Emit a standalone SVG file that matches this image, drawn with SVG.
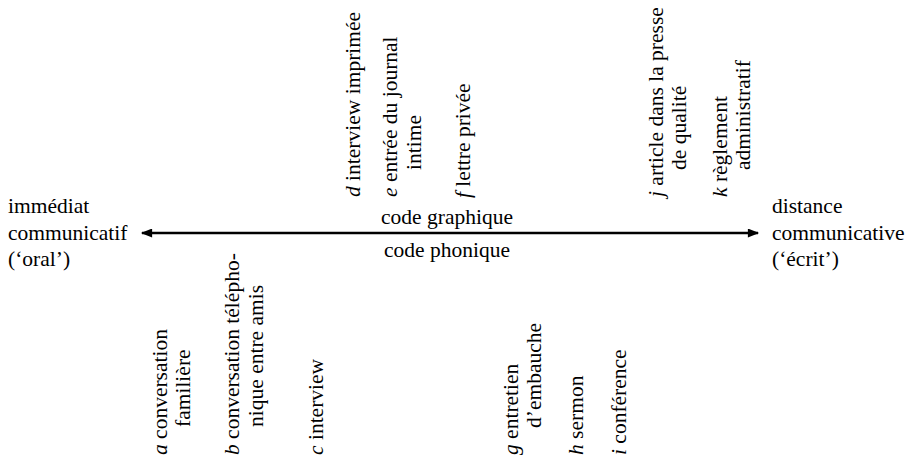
<svg xmlns="http://www.w3.org/2000/svg" width="913" height="458" viewBox="0 0 913 458" font-family="Liberation Serif, DejaVu Serif, serif" font-size="21.5">
<style>
text{fill:#000}
.i{font-style:italic}
.ax{stroke:#000;stroke-width:2.5;fill:none}
</style>
<defs>
<marker id="ah" viewBox="0 0 10 8" refX="9" refY="4" markerWidth="5" markerHeight="3.6" orient="auto-start-reverse" markerUnits="strokeWidth">
<path d="M0,0 L10,4 L0,8 z" fill="#000"/>
</marker>
</defs>
<rect width="913" height="458" fill="#fff"/>
<g id="connectors">
<line class="ax" x1="142" y1="233" x2="758" y2="233" marker-start="url(#ah)" marker-end="url(#ah)"/>
</g>
<g id="left">
<text x="8" y="213">immédiat</text>
<text x="8" y="240">communicatif</text>
<text x="8" y="266">(‘oral’)</text>
</g>
<g id="right">
<text x="772" y="213">distance</text>
<text x="772" y="240">communicative</text>
<text x="772" y="266">(‘écrit’)</text>
</g>
<g id="codes">
<text x="447" y="224" text-anchor="middle">code graphique</text>
<text x="447" y="257" text-anchor="middle">code phonique</text>
</g>
<g id="d"><text transform="translate(360,197) rotate(-90)"><tspan class="i">d</tspan> interview imprimée</text></g>
<g id="e"><text transform="translate(397,197) rotate(-90)"><tspan class="i">e</tspan> entrée du journal</text>
<text transform="translate(421,170) rotate(-90)">intime</text></g>
<g id="f"><text transform="translate(470,198) rotate(-90)"><tspan class="i">f</tspan> lettre privée</text></g>
<g id="j"><text transform="translate(663,197) rotate(-90)"><tspan class="i">j</tspan> article dans la presse</text>
<text transform="translate(686,170) rotate(-90)">de qualité</text></g>
<g id="k"><text transform="translate(727,197) rotate(-90)"><tspan class="i">k</tspan> règlement</text>
<text transform="translate(750,170) rotate(-90)">administratif</text></g>
<g id="a"><text transform="translate(167,455) rotate(-90)"><tspan class="i">a</tspan> conversation</text>
<text transform="translate(190,427) rotate(-90)">familière</text></g>
<g id="b"><text transform="translate(239,455) rotate(-90)"><tspan class="i">b</tspan> conversation télépho-</text>
<text transform="translate(263,427) rotate(-90)">nique entre amis</text></g>
<g id="c"><text transform="translate(323,455) rotate(-90)"><tspan class="i">c</tspan> interview</text></g>
<g id="g"><text transform="translate(518,455) rotate(-90)"><tspan class="i">g</tspan> entretien</text>
<text transform="translate(541,428) rotate(-90)">d’embauche</text></g>
<g id="h"><text transform="translate(583,455) rotate(-90)"><tspan class="i">h</tspan> sermon</text></g>
<g id="i"><text transform="translate(626,455) rotate(-90)"><tspan class="i">i</tspan> conférence</text></g>
</svg>
